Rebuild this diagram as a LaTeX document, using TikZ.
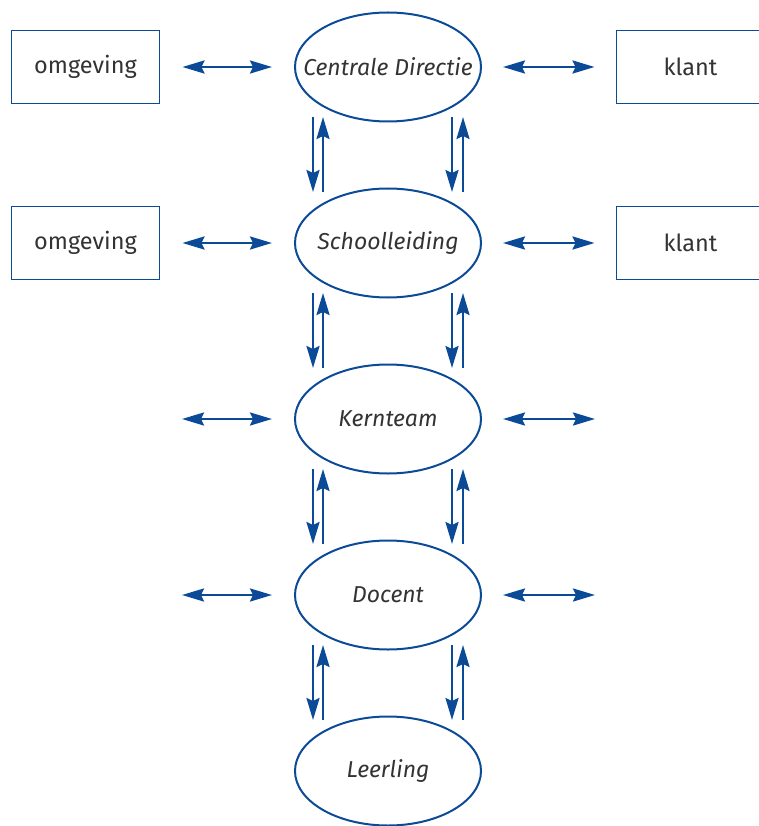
\documentclass[tikz,border=0pt]{standalone}
\usepackage{fontspec}
\setmainfont{Fira Sans}
\usetikzlibrary{arrows.meta,calc,shapes.geometric}
\definecolor{dblue}{HTML}{0B4A97}
\definecolor{tgrey}{HTML}{333333}
\begin{document}
\begin{tikzpicture}[x=1pt,y=-1pt,
  ell/.style={ellipse,draw=dblue,line width=2pt,minimum width=186pt,minimum height=109pt,inner sep=0pt,font=\fontsize{23}{27}\selectfont\itshape,text=tgrey},
  box/.style={rectangle,draw=dblue,line width=1.9pt,minimum width=148pt,minimum height=73pt,inner sep=0pt,font=\fontsize{23.5}{27}\selectfont,text=tgrey},
  arr/.style={draw=dblue,line width=2.6pt,-{Stealth[length=22pt,width=13pt,inset=3pt]}},
  darr/.style={draw=dblue,line width=2.6pt,{Stealth[length=22pt,width=13pt,inset=3pt]}-{Stealth[length=22pt,width=13pt,inset=3pt]}}]
\useasboundingbox (0,0) rectangle (759,826);
\clip (0,0) rectangle (759,826);
\node[ell] (e1) at (388,67) {\makebox[0pt]{Centrale Directie}};
\node[ell] (e2) at (388,243) {\makebox[0pt]{Schoolleiding}};
\node[ell] (e3) at (388,419) {\makebox[0pt]{Kernteam}};
\node[ell] (e4) at (388,595) {\makebox[0pt]{Docent}};
\node[ell] (e5) at (388,771) {\makebox[0pt]{Leerling}};
\node[box] (o1) at (85.5,67) {omgeving};
\node[box] (o2) at (85.5,243) {omgeving};
\node[box] (k1) at (690.5,67) {klant};
\node[box] (k2) at (690.5,243) {klant};
% horizontal arrows
\draw[darr] (o1.east) ++(22,0) coordinate (a1l) -- ($(e1.center)+(-116,0)$) coordinate (a1r);
\draw[darr] ($(e1.center)+(115,0)$) coordinate (b1l) -- ($(k1.west)+(-21,0)$) coordinate (b1r);
\draw[darr] (o2.east) ++(22,0) coordinate (a2l) -- ($(e2.center)+(-116,0)$) coordinate (a2r);
\draw[darr] ($(e2.center)+(115,0)$) coordinate (b2l) -- ($(k2.west)+(-21,0)$) coordinate (b2r);
\foreach \e in {e3,e4}{
  \coordinate (\e L) at ($(\e.center)+(-206,0)$);
  \coordinate (\e R) at ($(\e.center)+(207,0)$);
  \draw[darr] (\e L) -- ($(\e.center)+(-116,0)$);
  \draw[darr] ($(\e.center)+(115,0)$) -- (\e R);
}
% vertical arrows
\foreach \a/\b in {e1/e2,e2/e3,e3/e4,e4/e5}{
  \draw[arr] ($(\a.center)+(-75,50)$) -- ($(\b.center)+(-75,-51)$);
  \draw[arr] ($(\b.center)+(-65,-51)$) -- ($(\a.center)+(-65,50)$);
  \draw[arr] ($(\a.center)+(64,50)$) -- ($(\b.center)+(64,-51)$);
  \draw[arr] ($(\b.center)+(75,-51)$) -- ($(\a.center)+(75,50)$);
}
\end{tikzpicture}
\end{document}
